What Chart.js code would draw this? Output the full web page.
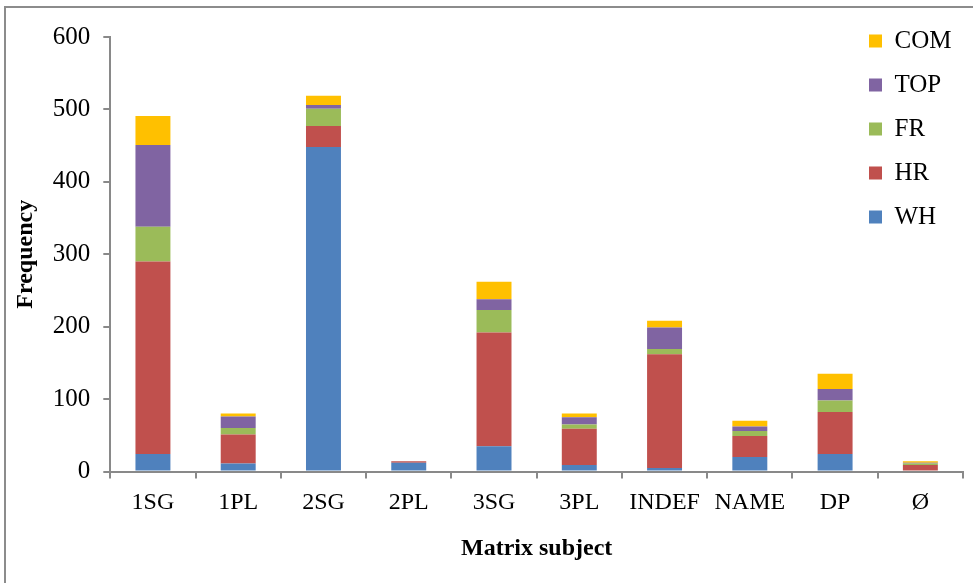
<!DOCTYPE html>
<html>
<head>
<meta charset="utf-8">
<script src="https://cdn.jsdelivr.net/npm/chart.js@4.4.1/dist/chart.umd.min.js"></script>
<style>
  body { margin: 0; background: #fff; overflow: hidden; }
  #wrap { position: relative; width: 973px; height: 583px; }
  /* moldura cinza do gráfico original (só aparece à esquerda e em cima) */
  #frame {
    position: absolute; left: 4px; top: 6px; width: 1000px; height: 700px;
    border: 2px solid #8c8c8c; pointer-events: none;
  }
  canvas { position: absolute; left: 0; top: 0; }
</style>
</head>
<body>
<div id="wrap">
  <canvas id="chart" width="973" height="583"></canvas>
  <div id="frame"></div>
</div>
<script>
// Categorias do eixo x
const categories = ['1SG', '1PL', '2SG', '2PL', '3SG', '3PL', 'INDEF', 'NAME', 'DP', 'Ø'];

// Valores de cada série (empilhadas de baixo para cima)
const whValues = [24, 11, 448, 12, 35, 9, 5, 20, 24, 0];
const hrValues = [266, 40, 29, 2, 157, 50, 157, 29, 58, 9];
const frValues = [48, 9, 24, 0, 31, 6, 7, 7, 16, 2];
const topValues = [113, 16, 5, 0, 15, 10, 30, 6, 16, 1];
const comValues = [40, 4, 13, 0, 24, 5, 9, 8, 21, 2];

// Escala do eixo y
const yMin = 0;
const yMax = 600;
const yStep = 100;

const fontFamily = "'Liberation Serif', 'Times New Roman', serif";
const axisGray = '#898989';

// Plugin que coloca a legenda dentro da área do gráfico, no canto superior direito
const legendInside = {
  id: 'legendInside',
  afterLayout(chart) {
    const legend = chart.legend;
    const area = chart.chartArea;
    legend.left = area.right - 113;
    legend.right = legend.left + legend.width;
    legend.top = area.top - 27.5;
    legend.bottom = legend.top + legend.height;
  },
};

const ctx = document.getElementById('chart');

new Chart(ctx, {
  type: 'bar',
  data: {
    labels: categories,
    datasets: [
      { label: 'WH', data: whValues, backgroundColor: '#4F81BD' },
      { label: 'HR', data: hrValues, backgroundColor: '#C0504D' },
      { label: 'FR', data: frValues, backgroundColor: '#9BBB59' },
      { label: 'TOP', data: topValues, backgroundColor: '#8064A2' },
      { label: 'COM', data: comValues, backgroundColor: '#FFC000' },
    ],
  },
  options: {
    responsive: false,
    animation: false,
    layout: {
      padding: { left: 3, right: 10, top: 37, bottom: 19.6 },
    },
    datasets: {
      bar: {
        categoryPercentage: 1,
        barPercentage: 0.41,
        borderWidth: 0,
      },
    },
    scales: {
      x: {
        stacked: true,
        grid: {
          drawOnChartArea: false,
          drawTicks: true,
          tickLength: 7,
          color: axisGray,
          lineWidth: 2,
        },
        border: { color: axisGray, width: 2 },
        ticks: {
          padding: 10,
          color: '#000',
          font: { family: fontFamily, size: 24 },
        },
        title: {
          display: true,
          text: 'Matrix subject',
          color: '#000',
          padding: { top: 7.3, bottom: 0 },
          font: { family: fontFamily, size: 24, weight: 'bold' },
        },
      },
      y: {
        stacked: true,
        min: yMin,
        max: yMax,
        grid: {
          drawOnChartArea: false,
          drawTicks: true,
          tickLength: 7,
          color: axisGray,
          lineWidth: 2,
        },
        border: { color: axisGray, width: 2 },
        ticks: {
          stepSize: yStep,
          padding: 13,
          color: '#000',
          font: { family: fontFamily, size: 25 },
        },
        title: {
          display: true,
          text: 'Frequency',
          color: '#000',
          padding: { top: 8, bottom: 0 },
          font: { family: fontFamily, size: 24, weight: 'bold' },
        },
      },
    },
    plugins: {
      tooltip: { enabled: false },
      legend: {
        position: 'chartArea',
        align: 'start',
        reverse: true,
        labels: {
          boxWidth: 13,
          boxHeight: 13,
          padding: 19,
          color: '#000',
          font: { family: fontFamily, size: 25 },
        },
      },
    },
  },
  plugins: [legendInside],
});
</script>
</body>
</html>
